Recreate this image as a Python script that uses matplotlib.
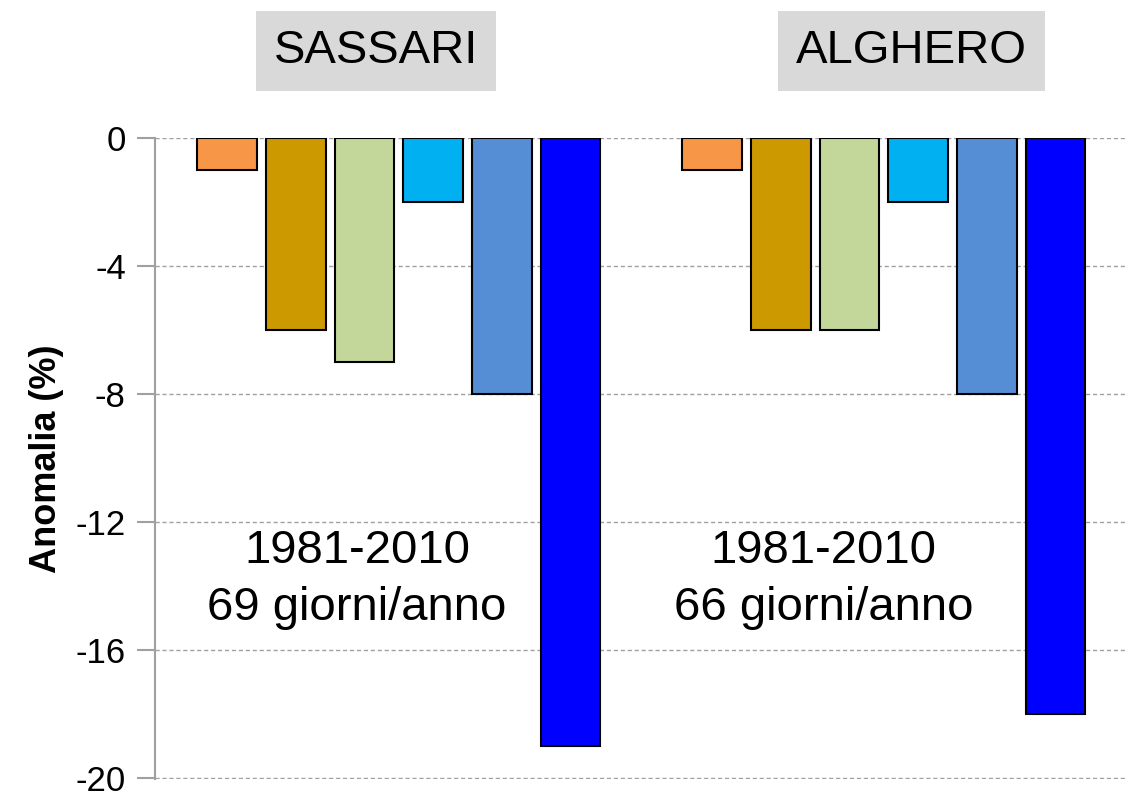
import numpy as np
import matplotlib as mpl
mpl.use('Agg')
import matplotlib.pyplot as plt

# anomalie (%) per stazione
stazioni = ["SASSARI", "ALGHERO"]
sassari = [-1, -6, -7, -2, -8, -19]
alghero = [-1, -6, -6, -2, -8, -18]
periodo = "1981-2010"
giorni = ["69 giorni/anno", "66 giorni/anno"]
colori = ["#F79646", "#CC9900", "#C4D79B", "#00B0F0", "#558ED5", "#0000FF"]

plt.rcParams['font.family'] = ['Liberation Sans', 'DejaVu Sans']
plt.rcParams['axes.unicode_minus'] = False

fig = plt.figure(figsize=(11.25, 7.99), dpi=100)
ax = fig.add_axes([0.1378, 0.0245, 0.8622, 0.8028])

offset = 7.06
x1 = np.arange(len(sassari))
x2 = np.arange(len(alghero)) + offset
ax.bar(x1, sassari, width=0.87, color=colori, edgecolor='black', linewidth=1.5, zorder=3)
ax.bar(x2, alghero, width=0.87, color=colori, edgecolor='black', linewidth=1.5, zorder=3)

ax.set_xlim(-1.048, 13.07)
ax.set_ylim(-20.05, 0)
ax.set_yticks(np.arange(-20, 1, 4))
ax.set_xticks([])
ax.yaxis.grid(True, linestyle=(0, (3, 2)), color='#A0A0A0', linewidth=1, zorder=0)
for s in ['top', 'right', 'bottom']:
    ax.spines[s].set_visible(False)
ax.spines['left'].set_color('#A0A0A0')
ax.spines['left'].set_linewidth(1.5)
ax.tick_params(axis='y', length=13, width=1.5, color='#A0A0A0', labelsize=25, pad=8)
ax.set_ylabel("Anomalia (%)", fontsize=26, fontweight='bold', labelpad=8)

# titoli e testi
tx = [2.17, 9.96]
cx = [1.89, 8.68]
for i in range(2):
    ax.text(tx[i], 2.72, stazioni[i], fontsize=34, ha='center', va='center',
            clip_on=False,
            bbox=dict(boxstyle='square,pad=0.38', facecolor='#D9D9D9', edgecolor='none'))
    ax.text(cx[i], -12.9, periodo, fontsize=34, ha='center', va='center', zorder=4)
    ax.text(cx[i], -14.7, giorni[i], fontsize=34, ha='center', va='center', zorder=4)

fig.savefig('out.png', dpi=100)
